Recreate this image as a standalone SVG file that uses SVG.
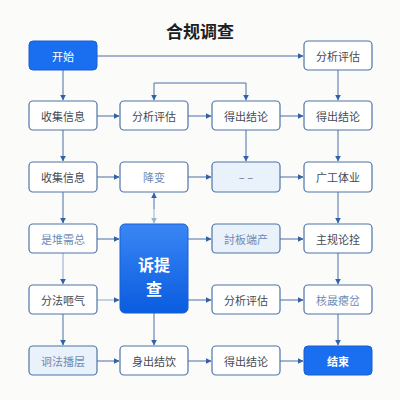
<svg xmlns="http://www.w3.org/2000/svg" width="400" height="400" viewBox="0 0 400 400">
<defs>
<marker id="ah" viewBox="0 0 10 10" refX="9" refY="5" markerWidth="6" markerHeight="6" orient="auto-start-reverse" markerUnits="userSpaceOnUse">
<path d="M0,0 L10,5 L0,10 z" fill="#2f62a8"/>
</marker>
<marker id="ahl" viewBox="0 0 10 10" refX="9" refY="5" markerWidth="6" markerHeight="6" orient="auto-start-reverse" markerUnits="userSpaceOnUse">
<path d="M0,0 L10,5 L0,10 z" fill="#9ab0cc"/>
</marker>
<linearGradient id="bg" x1="0" y1="0" x2="0" y2="1">
<stop offset="0" stop-color="#3a86f5"/>
<stop offset="1" stop-color="#0a5ce0"/>
</linearGradient>
</defs>
<style>
.n{fill:#ffffff;stroke:#4f74a8;stroke-width:1.2}
.l{fill:#e9f1fb;stroke:#4f74a8;stroke-width:1.2}
.b{fill:#1a6ff0;stroke:#1a5fd0;stroke-width:1}
.t{font-family:"Noto Sans CJK SC","Noto Sans",sans-serif;font-size:11px;fill:#444a55;text-anchor:middle;dominant-baseline:central}
.tl{fill:#6f8bb4}
.w{fill:#ffffff}
.bt{font-size:16px;font-weight:bold}
.c{fill:none;stroke:#4a6fa5;stroke-width:1;marker-end:url(#ah)}
</style>
<rect width="400" height="400" fill="#fbfbfa"/>
<text x="200" y="30" font-family="'Noto Sans CJK SC',sans-serif" font-size="17" font-weight="bold" fill="#1c1f26" text-anchor="middle" dominant-baseline="central">合规调查</text>
<g id="connectors">
<path class="c" d="M97,56 H303"/>
<path class="c" d="M63,70 V100"/>
<path class="c" d="M200,83 H154 V100"/>
<path class="c" d="M200,83 H246 V100"/>
<path class="c" d="M338,70 V100"/>
<path class="c" d="M97,116 H119"/>
<path class="c" d="M188,116 H211"/>
<path class="c" d="M280,116 H303"/>
<path class="c" d="M63,130 V161"/>
<path class="c" d="M246,130 V161"/>
<path class="c" d="M338,130 V161"/>
<path class="c" d="M97,177 H119"/>
<path class="c" d="M188,177 H211"/>
<path class="c" d="M280,177 H303"/>
<path class="c" d="M154,209 V193"/>
<path d="M154,209 V223" fill="none" stroke="#9ab0cc" stroke-width="1" marker-end="url(#ahl)"/>
<path class="c" d="M63,192 V223"/>
<path class="c" d="M338,192 V223"/>
<path class="c" d="M97,239 H119"/>
<path class="c" d="M188,239 H211"/>
<path class="c" d="M280,239 H303"/>
<path class="c" d="M63,253 V284" style="stroke:#8fa8cc"/>
<path class="c" d="M338,253 V284"/>
<path class="c" d="M97,300 H119" style="stroke:#8fa8cc"/>
<path class="c" d="M188,300 H211"/>
<path class="c" d="M280,300 H303"/>
<path class="c" d="M63,314 V345"/>
<path class="c" d="M154,313 V345"/>
<path class="c" d="M338,314 V345"/>
<path class="c" d="M97,361 H119"/>
<path class="c" d="M188,361 H211"/>
<path class="c" d="M280,361 H303"/>
</g>
<g id="start"><rect class="b" x="29" y="41" width="68" height="29" rx="4"/><text class="t w" x="63" y="55.5">开始</text></g>
<g id="n04"><rect class="n" x="304" y="41" width="68" height="29" rx="4"/><text class="t" x="338" y="55.5">分析评估</text></g>
<g id="n11"><rect class="n" x="29" y="101" width="68" height="29" rx="4"/><text class="t" x="63" y="115.5">收集信息</text></g>
<g id="n12"><rect class="n" x="120" y="101" width="68" height="29" rx="4"/><text class="t" x="154" y="115.5">分析评估</text></g>
<g id="n13"><rect class="n" x="212" y="101" width="68" height="29" rx="4"/><text class="t" x="246" y="115.5">得出结论</text></g>
<g id="n14"><rect class="n" x="304" y="101" width="68" height="29" rx="4"/><text class="t" x="338" y="115.5">得出结论</text></g>
<g id="n21"><rect class="n" x="29" y="162" width="68" height="30" rx="4"/><text class="t" x="63" y="177">收集信息</text></g>
<g id="n22"><rect class="n" x="120" y="162" width="68" height="30" rx="4"/><text class="t tl" x="154" y="177">降变</text></g>
<g id="n23"><rect class="l" x="212" y="162" width="68" height="30" rx="4"/><text class="t" x="246" y="177" style="fill:#6a7080">– –</text></g>
<g id="n24"><rect class="n" x="304" y="162" width="68" height="30" rx="4"/><text class="t" x="338" y="177">广工体业</text></g>
<g id="n31"><rect class="n" x="29" y="224" width="68" height="29" rx="4"/><text class="t tl" x="63" y="238.5">是堆需总</text></g>
<g id="big"><rect x="120" y="224" width="68" height="89" rx="5" fill="url(#bg)" stroke="#1a5fd0" stroke-width="1"/><text class="t w bt" x="154" y="264">诉提</text><text class="t w bt" x="154" y="288">查</text></g>
<g id="n33"><rect class="l" x="212" y="224" width="68" height="29" rx="4"/><text class="t tl" x="246" y="238.5">討板端产</text></g>
<g id="n34"><rect class="n" x="304" y="224" width="68" height="29" rx="4"/><text class="t" x="338" y="238.5">主规论拴</text></g>
<g id="n41"><rect class="n" x="29" y="285" width="68" height="29" rx="4"/><text class="t" x="63" y="299.5">分法咂气</text></g>
<g id="n43"><rect class="n" x="212" y="285" width="68" height="29" rx="4"/><text class="t" x="246" y="299.5">分析评估</text></g>
<g id="n44"><rect class="n" x="304" y="285" width="68" height="29" rx="4"/><text class="t tl" x="338" y="299.5">核晸瘪岔</text></g>
<g id="n51"><rect class="l" x="29" y="346" width="68" height="29" rx="4"/><text class="t tl" x="63" y="360.5">诇法播层</text></g>
<g id="n52"><rect class="n" x="120" y="346" width="68" height="29" rx="4"/><text class="t" x="154" y="360.5">身出结饮</text></g>
<g id="n53"><rect class="n" x="212" y="346" width="68" height="29" rx="4"/><text class="t" x="246" y="360.5">得出结论</text></g>
<g id="end"><rect class="b" x="304" y="346" width="68" height="29" rx="4"/><text class="t w" x="338" y="360.5" style="font-weight:bold">结束</text></g>
</svg>
